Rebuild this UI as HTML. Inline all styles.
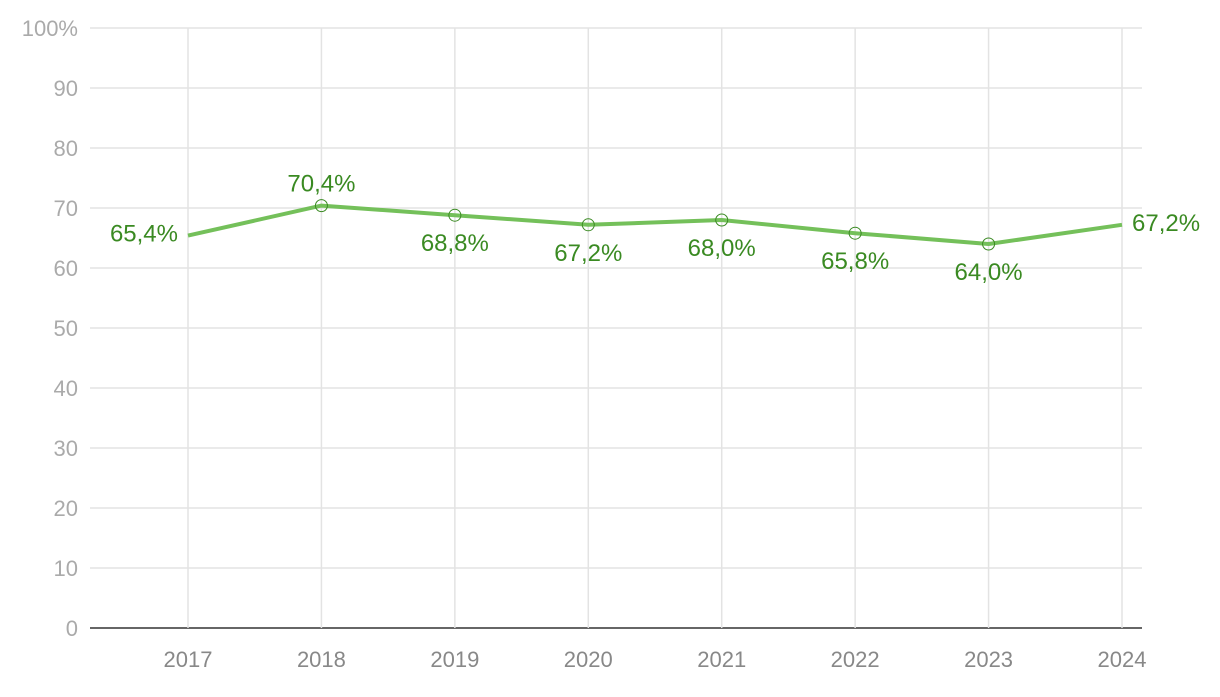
<!DOCTYPE html>
<html><head><meta charset="utf-8"><style>
body{margin:0;background:#fff}
svg text{font-family:"Liberation Sans",sans-serif}
</style></head><body>
<svg id="chart" width="1220" height="692"></svg>
<script>
const categories=["2017","2018","2019","2020","2021","2022","2023","2024"];
const values=[65.4,70.4,68.8,67.2,68.0,65.8,64.0,67.2];
const valueLabels=["65,4%","70,4%","68,8%","67,2%","68,0%","65,8%","64,0%","67,2%"];
const yTicks=[0,10,20,30,40,50,60,70,80,90,100];
const yTickLabels=["0","10","20","30","40","50","60","70","80","90","100%"];
const svg=document.getElementById('chart');
const NS='http://www.w3.org/2000/svg';
const x=i=>188+i*(1122-188)/(categories.length-1);
const y=v=>628-v*6;
function el(t,a){const e=document.createElementNS(NS,t);for(const k in a)e.setAttribute(k,a[k]);svg.appendChild(e);return e;}
yTicks.forEach((t,i)=>{
 const g=el('line',{x1:90,x2:1142,y1:y(t),y2:y(t),stroke:t===0?'#333':'#e3e3e3','stroke-width':t===0?1.5:1.5});
 
 
 const l=el('text',{x:78,y:y(t)+8,'text-anchor':'end','font-size':22,fill:'#aaa'});l.textContent=yTickLabels[i];
 
 
});
categories.forEach((c,i)=>{
 const g=el('line',{x1:x(i),x2:x(i),y1:28,y2:628,stroke:'#e3e3e3','stroke-width':1.5});
 
 
 const l=el('text',{x:x(i),y:667,'text-anchor':'middle','font-size':22,fill:'#888'});l.textContent=c;
 
 
});
const p=el('polyline',{points:values.map((v,i)=>x(i)+','+y(v)).join(' '),fill:'none',stroke:'#74c05a','stroke-width':4,'stroke-linejoin':'round'});


values.forEach((v,i)=>{
 if(i>0&&i<values.length-1){
  const c=el('circle',{cx:x(i),cy:y(v),r:6,fill:'none',stroke:'#3a8a22','stroke-width':1});
  
  
 }
 let lx=x(i),ly=y(v)+36,anchor='middle';
 if(i===0){lx=x(i)-10;ly=y(v)+6;anchor='end';}
 else if(i===values.length-1){lx=x(i)+10;ly=y(v)+6;anchor='start';}
 else if(i===1){ly=y(v)-14;}
 const t=el('text',{x:lx,y:ly,'text-anchor':anchor,'font-size':24,fill:'#3a8a22'});t.textContent=valueLabels[i];
 
 
});
</script>
</body></html>
